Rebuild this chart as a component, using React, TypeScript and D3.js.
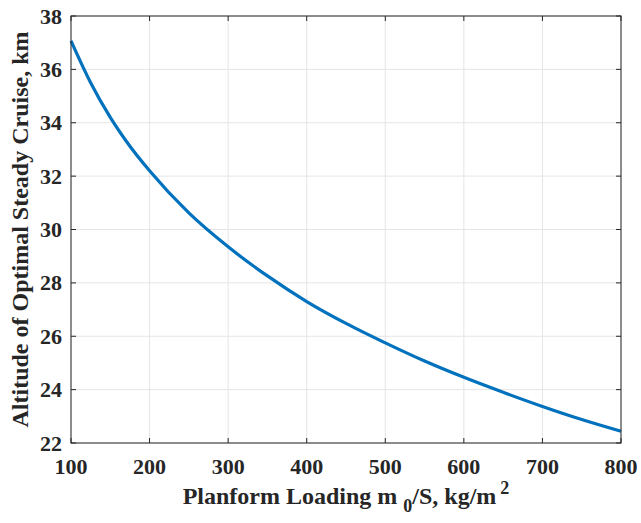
import React from "react";
import * as d3 from "d3";

// Planform loading (kg/m^2) and altitude of optimal steady cruise (km)
const loading = [100, 125, 150, 175, 200, 250, 300, 350, 400, 450, 500, 550, 600, 650, 700, 750, 800];
const altitude = [37.07, 35.5, 34.2, 33.12, 32.2, 30.62, 29.35, 28.26, 27.3, 26.48, 25.75, 25.07, 24.46, 23.9, 23.37, 22.88, 22.44];
const xTicks = [100, 200, 300, 400, 500, 600, 700, 800];
const yTicks = [22, 24, 26, 28, 30, 32, 34, 36, 38];

const W = 641;
const H = 523;
const M = { left: 71, right: 20, top: 16, bottom: 80 };

export default function App() {
  const x = d3.scaleLinear().domain([100, 800]).range([M.left, W - M.right]);
  const y = d3.scaleLinear().domain([22, 38]).range([H - M.bottom, M.top]);
  const pts = loading.map((v, i) => [v, altitude[i]] as [number, number]);
  const line = d3
    .line<[number, number]>()
    .x((d) => x(d[0]))
    .y((d) => y(d[1]))
    .curve(d3.curveMonotoneX);

  const x0 = M.left;
  const x1 = W - M.right;
  const y0 = H - M.bottom;
  const y1 = M.top;
  const axisColor = "#262626";
  const font = "'Liberation Serif', 'Times New Roman', serif";
  const tick = 5;

  return (
    <svg width={W} height={H} style={{ position: "absolute", left: 0, top: 0, background: "#fff" }}>
      <rect x={0} y={0} width={W} height={H} fill="#fff" />
      {/* grid */}
      {xTicks.map((t) => (
        <line key={"gx" + t} x1={x(t)} x2={x(t)} y1={y0} y2={y1} stroke="#e5e5e5" strokeWidth={1} />
      ))}
      {yTicks.map((t) => (
        <line key={"gy" + t} x1={x0} x2={x1} y1={y(t)} y2={y(t)} stroke="#e5e5e5" strokeWidth={1} />
      ))}
      {/* curve */}
      <path d={line(pts) || ""} fill="none" stroke="#0072BD" strokeWidth={3.2} />
      {/* box */}
      <rect x={x0} y={y1} width={x1 - x0} height={y0 - y1} fill="none" stroke={axisColor} strokeWidth={1} />
      {/* ticks */}
      {xTicks.map((t) => (
        <g key={"tx" + t}>
          <line x1={x(t)} x2={x(t)} y1={y0} y2={y0 - tick} stroke={axisColor} />
          <line x1={x(t)} x2={x(t)} y1={y1} y2={y1 + tick} stroke={axisColor} />
          <text
            x={x(t)}
            y={474}
            textAnchor="middle"
            fontFamily={font}
            fontWeight="bold"
            fontSize={22}
            fill={axisColor}
          >
            {t}
          </text>
        </g>
      ))}
      {yTicks.map((t) => (
        <g key={"ty" + t}>
          <line x1={x0} x2={x0 + tick} y1={y(t)} y2={y(t)} stroke={axisColor} />
          <line x1={x1} x2={x1 - tick} y1={y(t)} y2={y(t)} stroke={axisColor} />
          <text
            x={62}
            y={y(t) + 7.5}
            textAnchor="end"
            fontFamily={font}
            fontWeight="bold"
            fontSize={22}
            fill={axisColor}
          >
            {t}
          </text>
        </g>
      ))}
      {/* axis titles */}
      <text
        x={346}
        y={504}
        textAnchor="middle"
        fontFamily={font}
        fontWeight="bold"
        fontSize={24}
        fill={axisColor}
      >
        Planform Loading m
        <tspan dx={6} dy={8} fontSize={18}>0</tspan>
        <tspan dy={-8}>/S, kg/m</tspan>
        <tspan dx={4} dy={-10} fontSize={18}>2</tspan>
      </text>
      <text
        transform={`translate(28, ${(y0 + y1) / 2}) rotate(-90)`}
        textAnchor="middle"
        fontFamily={font}
        fontWeight="bold"
        fontSize={24}
        fill={axisColor}
      >
        Altitude of Optimal Steady Cruise, km
      </text>
    </svg>
  );
}
